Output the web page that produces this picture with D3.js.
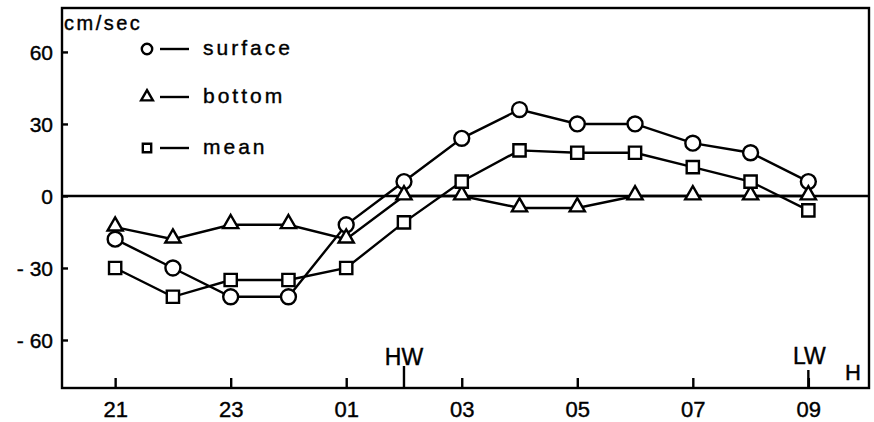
<!DOCTYPE html>
<html><head><meta charset="utf-8">
<script src="https://cdn.jsdelivr.net/npm/d3@7"></script>
<style>body{margin:0;background:#fff}svg{display:block}</style>
</head><body>
<svg id="c" width="874" height="422"></svg>
<script>
const hours = ["21","22","23","00","01","02","03","04","05","06","07","08","09"];
const tickLabels = ["21","23","01","03","05","07","09"];
const surface = [-18,-30,-42,-42,-12,6,24,36,30,30,22,18,6];
const bottom  = [-13,-18,-12,-12,-18,0,0,-5,-5,0,0,0,0];
const mean    = [-30,-42,-35,-35,-30,-11,6,19,18,18,12,6,-6];
const yTicks = [60,30,0,-30,-60];
const yTickText = ["60","30","0","- 30","- 60"];
const legendNames = ["surface","bottom","mean"];

const svg = d3.select("#c");
const L=62,R=869,T=8,B=388;
const x = d3.scaleLinear().domain([-0.92,13.05]).range([L,R]);
const y = d3.scaleLinear().domain([-80,78.3]).range([B,T]);
const font = "'Liberation Sans', Arial, sans-serif";
const SW = 2.4;

// frame
svg.append("rect").attr("x",L).attr("y",T).attr("width",R-L).attr("height",B-T)
  .attr("fill","none").attr("stroke","#000").attr("stroke-width",SW);
// zero line
svg.append("line").attr("x1",L).attr("x2",R).attr("y1",y(0)).attr("y2",y(0))
  .attr("stroke","#000").attr("stroke-width",2.6);

// y axis ticks (inward)
const ya = svg.append("g").attr("transform",`translate(${L},0)`)
  .call(d3.axisRight(y).tickValues(yTicks).tickSize(6).tickFormat((d,i)=>yTickText[i]));
ya.select(".domain").remove();
ya.selectAll("line").attr("stroke","#000").attr("stroke-width",SW);
ya.selectAll("text").attr("x",-9).attr("text-anchor","end").attr("dy","0.36em")
  .attr("font-family",font).attr("font-size",21).attr("fill","#000")
  .attr("stroke","#000").attr("stroke-width",0.4);

// x axis ticks (inward)
const xa = svg.append("g").attr("transform",`translate(0,${B})`)
  .call(d3.axisTop(x).tickValues([0,2,4,6,8,10,12]).tickSize(10).tickFormat((d,i)=>tickLabels[i]));
xa.select(".domain").remove();
xa.selectAll("line").attr("stroke","#000").attr("stroke-width",SW);
xa.selectAll("text").attr("y",21).attr("dy","0.36em")
  .attr("font-family",font).attr("font-size",22).attr("fill","#000")
  .attr("stroke","#000").attr("stroke-width",0.4);

// HW / LW marks
svg.append("line").attr("x1",x(5)).attr("x2",x(5)).attr("y1",B).attr("y2",B-22).attr("stroke","#000").attr("stroke-width",SW);
svg.append("line").attr("x1",x(12)).attr("x2",x(12)).attr("y1",B).attr("y2",B-18).attr("stroke","#000").attr("stroke-width",SW);
const lab = (t,xx,yy,fs)=>svg.append("text").attr("x",xx).attr("y",yy).attr("text-anchor","middle")
  .attr("font-family",font).attr("font-size",fs).attr("stroke","#000").attr("stroke-width",0.4).text(t);
lab("HW",x(5),365,23);
lab("LW",x(12)+1,364,23);
lab("H",853,380,22);

// unit
svg.append("text").attr("x",64).attr("y",30).attr("font-family",font).attr("font-size",20)
  .attr("letter-spacing",2.5).attr("stroke","#000").attr("stroke-width",0.4).text("cm/sec");

const line = d3.line().x((d,i)=>x(i)).y(d=>y(d));
const series = [surface,bottom,mean];
series.forEach(s=>{
  svg.append("path").datum(s).attr("d",line).attr("fill","none").attr("stroke","#000").attr("stroke-width",SW);
});
const sym = [d3.symbolCircle,d3.symbolTriangle,d3.symbolSquare];
const sz = [175,100,150];
series.forEach((s,k)=>{
  svg.append("g").selectAll("path").data(s).join("path")
    .attr("transform",(d,i)=>`translate(${x(i)},${y(d)+(k===1?-1:0)})`)
    .attr("d",d3.symbol(sym[k],sz[k])).attr("fill","#fff").attr("stroke","#000").attr("stroke-width",SW);
});

// legend
const ly=[49,97,148];
legendNames.forEach((n,k)=>{
  svg.append("path").attr("transform",`translate(147,${ly[k]})`)
    .attr("d",d3.symbol(sym[k],k===0?85:(k===1?60:70))).attr("fill","#fff").attr("stroke","#000").attr("stroke-width",SW);
  svg.append("line").attr("x1",160).attr("x2",189).attr("y1",ly[k]).attr("y2",ly[k]).attr("stroke","#000").attr("stroke-width",SW);
  svg.append("text").attr("x",203).attr("y",ly[k]+6).attr("font-family",font).attr("font-size",21)
    .attr("letter-spacing",3).attr("stroke","#000").attr("stroke-width",0.4).text(n);
});
</script>
</body></html>
